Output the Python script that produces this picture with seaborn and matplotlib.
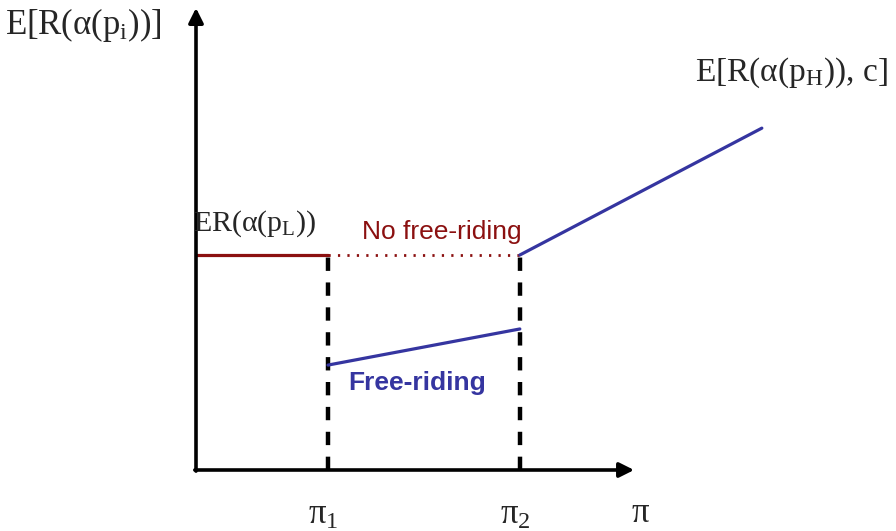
import matplotlib
matplotlib.use("Agg")
import matplotlib.pyplot as plt
import seaborn as sns

# stylised values (arbitrary units)
pi_1 = 3.0
pi_2 = 7.36
pi_end = 12.86
level_L = 5.0
free_start = 2.44
free_end = 3.28
high_end = 7.95

x_low = [0, pi_1]
y_low = [level_L, level_L]
x_nofree = [pi_1, pi_2]
y_nofree = [level_L, level_L]
x_free = [pi_1, pi_2]
y_free = [free_start, free_end]
x_high = [pi_2, pi_end]
y_high = [level_L, high_end]

red = "#8b1010"
blue = "#3535a0"

sns.set_style("white")
plt.rcParams["mathtext.fontset"] = "custom"
plt.rcParams["mathtext.rm"] = "Liberation Serif"
plt.rcParams["mathtext.it"] = "Liberation Serif:italic"

fig = plt.figure(figsize=(8.96, 5.31), dpi=100)
ax = fig.add_axes([0, 0, 1, 1])
ax.set_xlim(-196 / 44, 700 / 44)
ax.set_ylim(-61 / 43, 470 / 43)
ax.axis("off")

# axes with arrows
ax.annotate("", xy=(10.02, 0), xytext=(-0.09, 0),
            arrowprops=dict(arrowstyle="-|>", lw=2.6, color="black", mutation_scale=22))
ax.annotate("", xy=(0, 10.81), xytext=(0, -0.09),
            arrowprops=dict(arrowstyle="-|>", lw=2.6, color="black", mutation_scale=22))

# dashed verticals at pi_1 and pi_2
for xv in (pi_1, pi_2):
    ax.plot([xv, xv], [0, level_L], color="black", lw=3.2,
            linestyle=(0, (3.0, 2.6)), solid_capstyle="butt")

sns.lineplot(x=x_low, y=y_low, ax=ax, color=red, lw=2.3)
ax.plot(x_nofree, y_nofree, color=red, lw=2.0, linestyle=(0, (0.8, 2.6)))
sns.lineplot(x=x_free, y=y_free, ax=ax, color=blue, lw=2.3)
sns.lineplot(x=x_high, y=y_high, ax=ax, color=blue, lw=2.3)

# labels
ax.text(-4.34, 10.35, r"$\mathrm{E[R(\alpha(p_i))]}$", fontsize=25, ha="left", va="center")
ax.text(11.34, 9.23, r"$\mathrm{E[R(\alpha(p_H)),\,c]}$", fontsize=24, ha="left", va="center")
ax.text(-0.07, 5.72, r"$\mathrm{ER(\alpha(p_L))}$", fontsize=21.5, ha="left", va="center")
ax.text(3.77, 5.53, "No free-riding", fontsize=19, color=red, family="Liberation Sans",
        ha="left", va="center")
ax.text(3.45, 2.02, "Free-riding", fontsize=19, color=blue, family="Liberation Sans",
        fontweight="bold", ha="left", va="center")
ax.text(pi_1 - 0.11, -1.02, r"$\mathrm{\pi_1}$", fontsize=25, ha="center", va="center")
ax.text(pi_2 - 0.11, -1.02, r"$\mathrm{\pi_2}$", fontsize=25, ha="center", va="center")
ax.text(10.09, -1.20, "π", fontsize=25, family="Liberation Serif", ha="center", va="baseline")

fig.savefig("out.png", dpi=100)
